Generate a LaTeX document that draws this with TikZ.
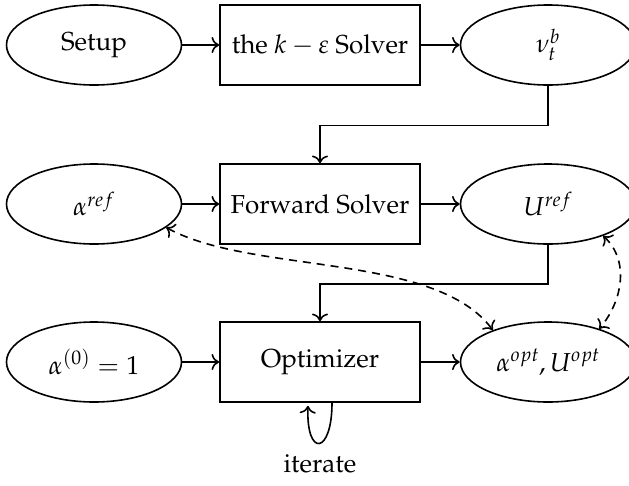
\documentclass[tikz,border=0pt]{standalone}
\usepackage[T1]{fontenc}
\usepackage{mathpazo}
\usetikzlibrary{shapes.geometric,arrows.meta}
\begin{document}
\begin{tikzpicture}[x=1pt,y=-1pt,
  >={To[scale=1.5]},
  every node/.style={font=\fontsize{26}{31}\selectfont},
  oval/.style={draw,ellipse,line width=1.6pt,minimum width=175pt,minimum height=80pt,inner sep=0pt},
  block/.style={draw,rectangle,line width=1.6pt,minimum width=200pt,minimum height=80pt,inner sep=0pt},
  flow/.style={->,line width=1.6pt},
  link/.style={<->,line width=1.6pt,dash pattern=on 8pt off 6pt}]
\useasboundingbox (0,0) rectangle (629,485);
% first row
\node[oval]  (setup) at (94,45)  {Setup};
\node[block] (kes)   at (320,45) {the $k-\varepsilon$ Solver};
\node[oval]  (nu)    at (548,45) {$\nu_t^b$};
% second row
\node[oval]  (aref)  at (94,204)  {$\alpha^{ref}$};
\node[block] (fwd)   at (320,204) {Forward Solver};
\node[oval]  (uref)  at (548,204) {$U^{ref}$};
% third row
\node[oval]  (a0)    at (94,362)  {$\alpha^{(0)}=1$};
\node[block] (opt)   at (320,362) {Optimizer};
\node[oval]  (aopt)  at (548,362) {$\alpha^{opt},U^{opt}$};
\node (iter) at (320,464) {iterate};
% main flow
\draw[flow] (setup) -- (kes);
\draw[flow] (kes) -- (nu);
\draw[flow] (nu.south) -- ++(0,39.5) -| (fwd.north);
\draw[flow] (aref) -- (fwd);
\draw[flow] (fwd) -- (uref);
\draw[flow] (uref.south) -- ++(0,39) -| (opt.north);
\draw[flow] (a0) -- (opt);
\draw[flow] (opt) -- (aopt);
% iteration loop
\draw[flow] ([xshift=12pt]opt.south) .. controls +(0,52) and +(-2,52) .. ([xshift=-12pt,yshift=-3pt]opt.south);
% comparisons
\draw[link] (aref.-18) .. controls +(85,47) and +(-58,-78) .. (aopt.150);
\draw[link] (uref.-30) .. controls +(27,25) and +(23,-27) .. (aopt.33);
\end{tikzpicture}
\end{document}
